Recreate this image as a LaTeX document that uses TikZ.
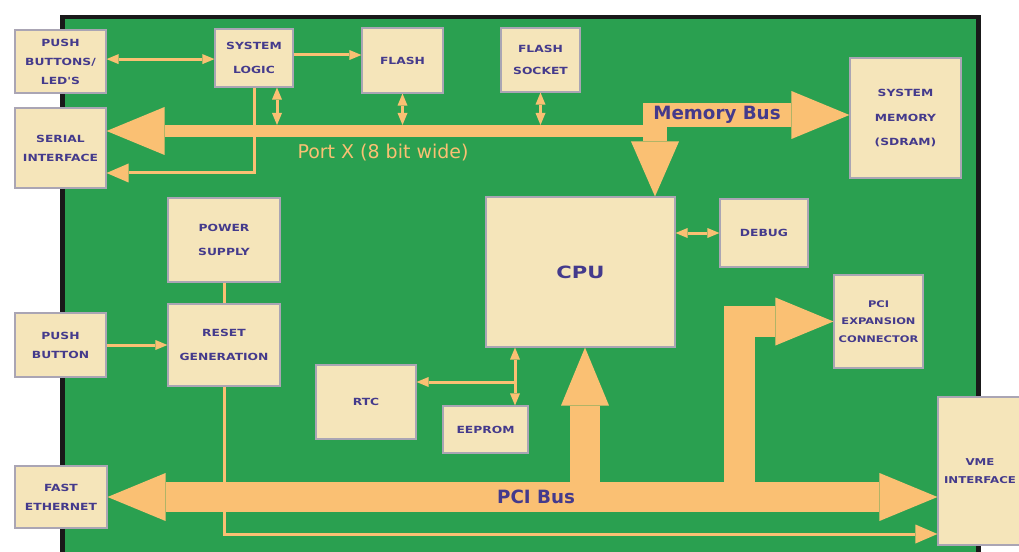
\documentclass[tikz,border=0pt]{standalone}
\usepackage{fontspec}
\usepackage{tikz}
\usetikzlibrary{arrows.meta}
\setmainfont{DejaVu Sans}
\newfontfamily\boxfont[FakeStretch=1.25]{DejaVu Sans}
\definecolor{boardgreen}{RGB}{42,160,80}
\definecolor{busorange}{RGB}{250,192,115}
\definecolor{chipfill}{RGB}{245,229,186}
\definecolor{chipedge}{RGB}{170,165,180}
\definecolor{labelblue}{RGB}{68,58,140}

\begin{document}
\begin{tikzpicture}[
    chip/.style={draw=chipedge, fill=chipfill, line width=0.8pt, inner sep=0.5pt,
                 font=\boxfont\bfseries\fontsize{7}{13.5}\selectfont, text=labelblue, align=center},
    link/.style={draw=busorange, line width=0.075cm},
    bus/.style={draw=busorange, line width=0.75cm},
    buslabel/.style={font=\bfseries\fontsize{13}{15}\selectfont, text=labelblue},
    SmallTip/.tip={Triangle[length=0.3cm,width=0.25cm,line width=0pt]},
    WideTip/.tip={Triangle[length=0.55cm,width=0.475cm,line width=0pt]},
    BusTip/.tip={Triangle[length=1.45cm,width=1.2cm,line width=0pt]}
]
\useasboundingbox (0,0) rectangle (25.475,-13.8);
\clip (0,0) rectangle (25.475,-13.8);
% board
\draw[fill=boardgreen, draw=black!90, line width=0.12cm] (1.5625,-0.425) rectangle (24.4625,-14.5);

% chips
\node[chip, minimum width=2.275cm, minimum height=1.575cm] (leds) at (1.5125,-1.5375) {PUSH\\BUTTONS/\\LED'S};
\node[chip, minimum width=1.95cm, minimum height=1.45cm] (syslogic) at (6.35,-1.45) {SYSTEM\\[3pt]LOGIC};
\node[chip, minimum width=2.275cm, minimum height=2.0cm] (serial) at (1.5125,-3.7) {SERIAL\\INTERFACE};
\node[chip, minimum width=2.025cm, minimum height=1.625cm] (flash) at (10.0625,-1.5125) {FLASH};
\node[chip, minimum width=1.975cm, minimum height=1.6cm] (flashsock) at (13.5125,-1.5) {FLASH\\[2pt]SOCKET};
\node[chip, minimum width=2.775cm, minimum height=3.0cm] (sdram) at (22.6375,-2.95) {SYSTEM\\[4pt]MEMORY\\[4pt](SDRAM)};
\node[chip, minimum width=2.8cm, minimum height=2.1cm] (power) at (5.6,-6.0) {POWER\\[4pt]SUPPLY};
\node[chip, minimum width=2.8cm, minimum height=2.05cm] (reset) at (5.6,-8.625) {RESET\\[4pt]GENERATION};
\node[chip, minimum width=2.275cm, minimum height=1.6cm] (pushbtn) at (1.5125,-8.625) {PUSH\\BUTTON};
\node[chip, minimum width=4.725cm, minimum height=3.75cm,
      font=\boxfont\bfseries\fontsize{12}{14}\selectfont] (cpu) at (14.5125,-6.8) {CPU};
\node[chip, minimum width=2.5cm, minimum height=1.85cm] (rtc) at (9.15,-10.05) {RTC};
\node[chip, minimum width=2.125cm, minimum height=1.175cm] (eeprom) at (12.1375,-10.7375) {EEPROM};
\node[chip, minimum width=2.2cm, minimum height=1.7cm] (debug) at (19.1,-5.825) {DEBUG};
\node[chip, minimum width=2.225cm, minimum height=2.325cm,
      font=\boxfont\bfseries\fontsize{6.5}{12.5}\selectfont] (pciexp) at (21.9625,-8.0375) {PCI\\EXPANSION\\CONNECTOR};
\node[chip, minimum width=2.1cm, minimum height=3.7cm,
      font=\boxfont\bfseries\fontsize{6.7}{12.5}\selectfont] (vme) at (24.5,-11.775) {VME\\INTERFACE};
\node[chip, minimum width=2.3cm, minimum height=1.55cm] (ether) at (1.525,-12.425) {FAST\\ETHERNET};

% bus points
\coordinate (portend) at (16.375,-3.275);
\coordinate (portedge) at (16.375,-3.125);
\coordinate (memstart) at (16.075,-2.875);
\coordinate (cpudrop) at (16.375,-2.575);
\coordinate (cpurise) at (14.625,-12.425);
\coordinate (exprise) at (18.475,-12.425);
\coordinate (eetap) at ([xshift=0.7375cm]eeprom.north);

% wide buses
\draw[bus, line width=0.3cm, -{BusTip}] (portend) -- (portend -| serial.east);
\draw[bus, line width=0.6cm, -{BusTip}] (memstart) -- (memstart -| sdram.west);
\draw[bus, line width=0.6cm, -{BusTip[length=1.375cm]}] (cpudrop) -- (cpudrop |- cpu.north);
\draw[bus, {BusTip}-{BusTip}] (ether.east) -- (ether.east -| vme.west);
\draw[bus, -{BusTip}] (cpurise) -- (cpurise |- cpu.south);
\draw[bus, line width=0.775cm, -{BusTip}] (exprise) |- (pciexp.west);

% thin links
\draw[link, {SmallTip}-{SmallTip}] ([yshift=0.06cm]leds.east) -- ([yshift=0.06cm]leds.east -| syslogic.west);
\draw[link, -{SmallTip}] ([yshift=0.075cm]syslogic.east) -- ([yshift=0.075cm]syslogic.east -| flash.west);
\draw[link, {SmallTip}-{SmallTip}] ([xshift=0.575cm]syslogic.south) -- ([xshift=0.575cm]syslogic.south |- portedge);
\draw[link, {SmallTip}-{SmallTip}] (flash.south) -- (flash.south |- portedge);
\draw[link, {SmallTip}-{SmallTip}] (flashsock.south) -- (flashsock.south |- portedge);
\draw[link, -{WideTip}] (syslogic.south) |- ([yshift=-0.625cm]serial.east);
\draw[link, {SmallTip}-{SmallTip}] (debug.west) -- (debug.west -| cpu.east);
\draw[link] (power.south) -- (reset.north);
\draw[link, -{SmallTip}] (pushbtn.east) -- (reset.west);
\draw[link, -{WideTip}] (reset.south) |- ([yshift=-1.575cm]vme.west);
\draw[link, {SmallTip}-{SmallTip}] (eetap |- cpu.south) -- (eetap);
\draw[link, -{SmallTip}] ([yshift=0.5cm]eetap |- rtc.east) -- ([yshift=0.5cm]rtc.east);

% bus labels
\node[font=\fontsize{13.5}{15}\selectfont, text=busorange] (portlabel) at (9.575,-3.825) {Port X (8 bit wide)};
\node[buslabel] (memlabel) at (17.925,-2.875) {Memory Bus};
\node[buslabel] (pcilabel) at (13.4,-12.425) {PCI Bus};
\end{tikzpicture}
\end{document}
